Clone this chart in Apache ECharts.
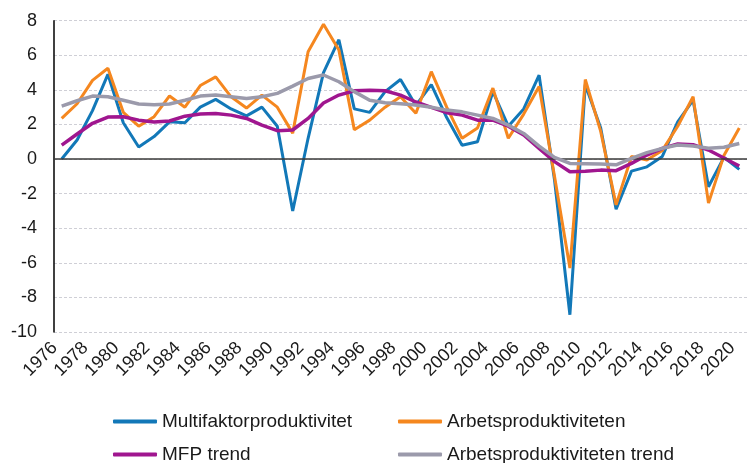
<!DOCTYPE html>
<html>
<head>
<meta charset="utf-8">
<script src="https://cdn.jsdelivr.net/npm/echarts@6/dist/echarts.min.js"></script>
<style>html,body{margin:0;padding:0;background:#fff}#c{width:747px;height:463px}</style>
</head>
<body>
<div id="c"></div>
<script>
var years = [];
for (var y = 1976; y <= 2020; y++) years.push(String(y));

var mfp = [0.0, 1.1, 2.8, 4.9, 2.1, 0.7, 1.3, 2.15, 2.1, 3.0, 3.45, 2.9, 2.5, 3.0, 1.9,
  -3.0, 1.2, 5.0, 6.9, 2.9, 2.7, 3.9, 4.6, 3.1, 4.3, 2.4, 0.8, 1.0, 3.9, 1.9,
  2.9, 4.85, -1.2, -9.0, 4.3, 1.8, -2.9, -0.7, -0.45, 0.15, 2.15, 3.4, -1.6, 0.1, -0.6];

var arb = [2.35, 3.2, 4.55, 5.25, 2.7, 1.9, 2.45, 3.65, 3.0, 4.25, 4.75, 3.6, 2.95, 3.7, 3.0,
  1.5, 6.2, 7.8, 6.3, 1.7, 2.25, 3.0, 3.6, 2.65, 5.05, 3.0, 1.2, 1.8, 4.1, 1.2,
  2.6, 4.2, -1.0, -6.3, 4.6, 1.6, -2.65, 0.15, -0.05, 0.5, 1.9, 3.6, -2.55, 0.2, 1.8];

var mfpTrend = [0.81, 1.45, 2.07, 2.43, 2.45, 2.25, 2.14, 2.2, 2.48, 2.6, 2.64, 2.54, 2.35, 1.96, 1.64,
  1.68, 2.35, 3.24, 3.7, 3.95, 3.98, 3.95, 3.7, 3.3, 2.99, 2.68, 2.54, 2.25, 2.25, 1.9,
  1.39, 0.62, -0.15, -0.73, -0.7, -0.64, -0.67, -0.25, 0.23, 0.62, 0.87, 0.83, 0.52, 0.06, -0.4];

var arbTrend = [3.06, 3.37, 3.64, 3.6, 3.4, 3.18, 3.14, 3.18, 3.4, 3.64, 3.7, 3.6, 3.5, 3.6, 3.8,
  4.22, 4.66, 4.86, 4.47, 3.9, 3.4, 3.25, 3.2, 3.12, 2.99, 2.83, 2.73, 2.54, 2.35, 1.96,
  1.48, 0.75, 0.1, -0.25, -0.27, -0.29, -0.33, 0.04, 0.37, 0.62, 0.81, 0.75, 0.62, 0.68, 0.9];

var names = ['Multifaktorproduktivitet', 'Arbetsproduktiviteten', 'MFP trend', 'Arbetsproduktiviteten trend'];
var colors = ['#1278b8', '#f5871f', '#a0168f', '#9b9aab'];
var yTicks = {min: -10, max: 8, interval: 2};

var chart = echarts.init(document.getElementById('c'), null, {renderer: 'canvas'});
var font = 'Liberation Sans, Arial, sans-serif';

function line(name, data, color, z, width, extra) {
  var s = {
    name: name, type: 'line', data: data, symbol: 'none', smooth: false,
    lineStyle: {color: color, width: width}, itemStyle: {color: color}, z: z,
    animation: false
  };
  if (extra) for (var k in extra) s[k] = extra[k];
  return s;
}

function leg(name, left, top) {
  return {
    data: [name], left: left, top: top, itemWidth: 44, itemHeight: 4, icon: 'roundRect',
    textStyle: {fontFamily: font, fontSize: 19, color: '#1a1a1a'}, padding: 0
  };
}

chart.setOption({
  animation: false,
  backgroundColor: '#fff',
  grid: {left: 54, right: -9, top: 20.7, bottom: 131, containLabel: false},
  legend: [
    leg(names[0], 113, 412),
    leg(names[1], 398, 412),
    leg(names[2], 113, 445),
    leg(names[3], 398, 445)
  ],
  xAxis: {
    type: 'category', data: years, boundaryGap: true,
    axisLine: {show: false}, axisTick: {show: false},
    axisLabel: {interval: 1, rotate: 45, fontFamily: font, fontSize: 18, color: '#1a1a1a',
      margin: 6, padding: [0, 10, 0, 0]},
    splitLine: {show: false}
  },
  yAxis: {
    type: 'value', min: yTicks.min, max: yTicks.max, interval: yTicks.interval,
    axisLine: {show: true, lineStyle: {color: '#000', width: 1.5}},
    axisTick: {show: false},
    axisLabel: {fontFamily: font, fontSize: 18, color: '#1a1a1a', margin: 17},
    splitLine: {show: true, lineStyle: {color: '#cfcfd6', type: [3, 2], width: 1}}
  },
  series: [
    line(names[0], mfp, colors[0], 2, 3, {
      markLine: {
        silent: true, symbol: 'none', label: {show: false}, animation: false,
        lineStyle: {color: '#3a3a3a', type: 'solid', width: 1.5},
        data: [{yAxis: 0}]
      }
    }),
    line(names[1], arb, colors[1], 3, 3),
    line(names[2], mfpTrend, colors[2], 4, 3.5),
    line(names[3], arbTrend, colors[3], 5, 3.5)
  ]
});
</script>
</body>
</html>
